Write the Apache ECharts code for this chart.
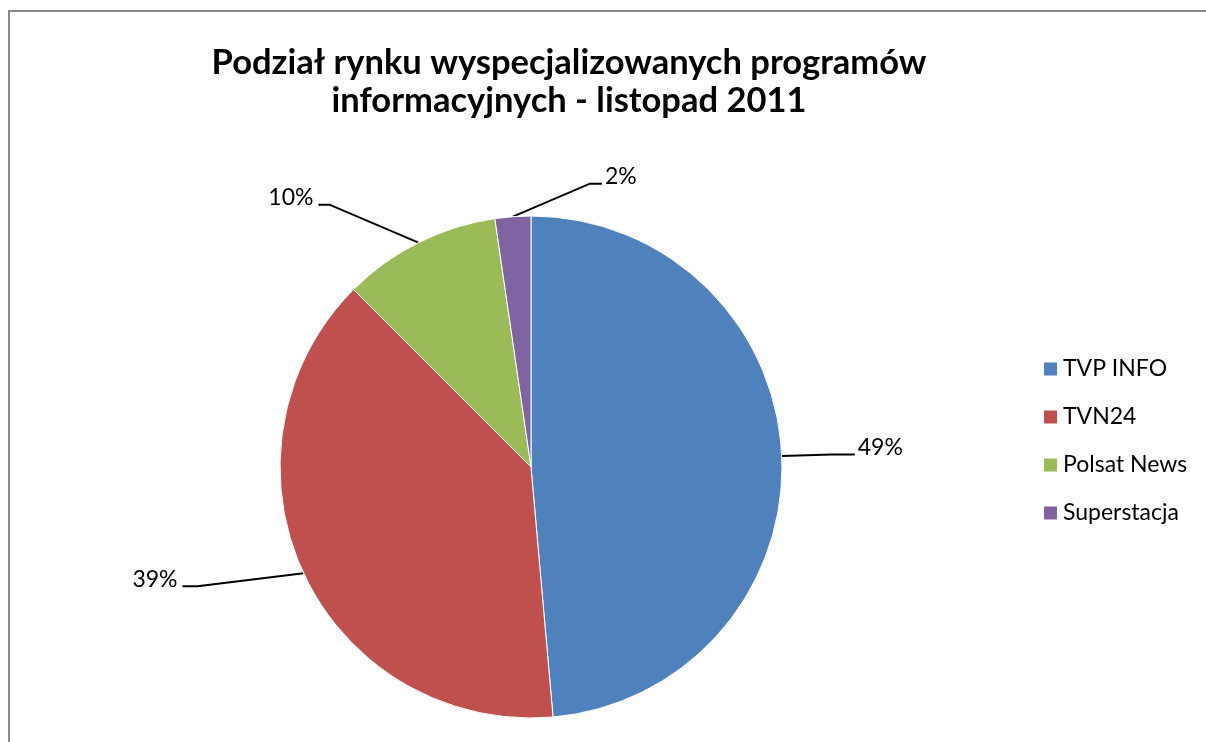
<!DOCTYPE html>
<html lang="pl">
<head>
    <meta charset="UTF-8">
    <title>Podział rynku</title>
    <script src="https://cdn.jsdelivr.net/npm/echarts@6/dist/echarts.min.js"></script>
    <style>
        html, body { margin: 0; padding: 0; background: #fff; }
    </style>
</head>
<body>
<div id="main" style="width: 1206px;height:742px;"></div>
<script>
    // dane
    const channels = ['TVP INFO', 'TVN24', 'Polsat News', 'Superstacja'];
    const shares = [48.6, 38.9, 10.2, 2.3];
    const colors = ['#4F81BD', '#C0504D', '#9BBB59', '#8064A2'];

    // gdzie ida linie etykiet (przesuniecie od krawedzi wycinka)
    const labelOffsets = [
        { ex: 50, ey: -1.5, h: 23 },
        { ex: -106, ey: 13, h: -15 },
        { ex: -89, ey: -38, h: -11 },
        { ex: 77, ey: -33, h: 12 }
    ];

    let chartDom = document.getElementById('main');
    let myChart = echarts.init(chartDom);
    let option;

    let pieData = channels.map(function (name, i) {
        return { name: name, value: shares[i], itemStyle: { color: colors[i] } };
    });

    option = {
        animation: false,
        backgroundColor: '#fff',
        title: {
            text: 'Podział rynku wyspecjalizowanych programów\ninformacyjnych - listopad 2011',
            left: 564,
            top: 39,
            textAlign: 'center',
            textStyle: {
                fontFamily: 'Lato',
                fontWeight: 'bold',
                fontSize: 34.5,
                lineHeight: 38,
                color: '#000'
            }
        },
        legend: {
            orient: 'vertical',
            left: 1037,
            top: 352,
            itemWidth: 15,
            itemHeight: 15,
            itemGap: 24,
            icon: 'rect',
            textStyle: {
                fontFamily: 'Lato',
                fontSize: 23,
                lineHeight: 24,
                color: '#000'
            },
            data: channels
        },
        graphic: [
            {
                type: 'rect',
                shape: { x: 9, y: 11, width: 1210, height: 740 },
                style: { fill: 'none', stroke: '#888', lineWidth: 2 },
                silent: true
            }
        ],
        series: [
            {
                name: 'Udział',
                type: 'pie',
                center: [531, 467],
                radius: 251,
                startAngle: 90,
                clockwise: true,
                percentPrecision: 0,
                itemStyle: {
                    borderColor: '#fff',
                    borderWidth: 1
                },
                label: {
                    show: true,
                    formatter: '{d}%',
                    fontFamily: 'Lato',
                    fontSize: 23,
                    color: '#000'
                },
                labelLine: {
                    show: true,
                    length: 10,
                    length2: 10,
                    lineStyle: { color: '#000', width: 2 }
                },
                labelLayout: function (p) {
                    let o = labelOffsets[p.dataIndex];
                    let a = p.labelLinePoints[0];
                    let b = [a[0] + o.ex, a[1] + o.ey];
                    let c = [b[0] + o.h, b[1]];
                    let right = o.h > 0;
                    return {
                        x: c[0] + (right ? 3 : -5),
                        y: c[1] - 7,
                        align: right ? 'left' : 'right',
                        verticalAlign: 'middle',
                        labelLinePoints: [a, b, c]
                    };
                },
                emphasis: { disabled: true },
                data: pieData
            }
        ]
    };

    option && myChart.setOption(option);
</script>
</body>
</html>
